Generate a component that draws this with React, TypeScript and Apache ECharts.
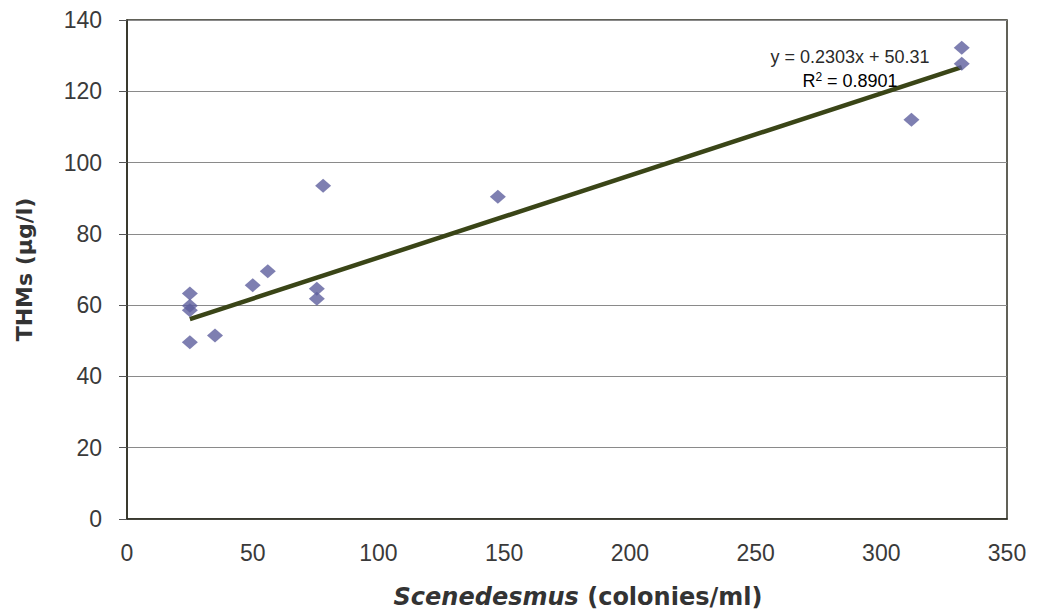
import React, { useEffect, useRef } from "react";
import * as echarts from "echarts";

// Scenedesmus colony counts (colonies/ml) and THM concentrations (µg/l)
const colonies = [25, 25, 25, 25, 35, 50, 56, 75.5, 75.5, 78, 147.5, 312, 332, 332];
const thms = [63.3, 59.8, 58.6, 49.6, 51.5, 65.6, 69.5, 64.6, 61.8, 93.5, 90.4, 112, 132.2, 127.7];

// Linear trend line coefficients
const slope = 0.2303;
const intercept = 50.31;
const rSquared = 0.8901;

const xTicks = [0, 50, 100, 150, 200, 250, 300, 350];
const yTicks = [0, 20, 40, 60, 80, 100, 120, 140];

export default function App() {
  const ref = useRef<HTMLDivElement>(null);

  useEffect(() => {
    if (!ref.current) return;
    const chart = echarts.init(ref.current, undefined, { renderer: "svg" });

    const points = colonies.map((x, i) => [x, thms[i]]);
    const xMin = Math.min(...colonies);
    const xMax = Math.max(...colonies);
    const trend = [
      [xMin, slope * xMin + intercept],
      [xMax, slope * xMax + intercept],
    ];

    const font = "'Liberation Sans', Arial, sans-serif";
    const titleFont = "'DejaVu Sans', 'Liberation Sans', sans-serif";

    chart.setOption({
      animation: false,
      backgroundColor: "#ffffff",
      grid: {
        left: 127,
        right: 31,
        top: 20,
        bottom: 94,
        show: true,
        borderColor: "#2e2e22",
        borderWidth: 1.5,
      },
      xAxis: {
        type: "value",
        min: xTicks[0],
        max: xTicks[xTicks.length - 1],
        interval: 50,
        axisLine: { show: true, onZero: false, lineStyle: { color: "#2e2e22", width: 1.5 } },
        axisTick: { show: false },
        splitLine: { show: false },
        axisLabel: { color: "#3a3a3a", fontSize: 23, fontFamily: font, margin: 22 },
        name: "{i|Scenedesmus}{b| (colonies/ml)}",
        nameLocation: "middle",
        nameGap: 66,
        nameTextStyle: {
          padding: [0, 0, 0, 22],
          rich: {
            i: { fontSize: 24, fontWeight: "bold", fontStyle: "italic", fontFamily: titleFont, color: "#333" },
            b: { fontSize: 24, fontWeight: "bold", fontFamily: titleFont, color: "#333" },
          },
        },
      },
      yAxis: {
        type: "value",
        min: yTicks[0],
        max: yTicks[yTicks.length - 1],
        interval: 20,
        axisLine: { show: true, onZero: false, lineStyle: { color: "#2e2e22", width: 1.5 } },
        axisTick: { show: true, inside: false, length: 8, lineStyle: { color: "#555", width: 1 } },
        splitLine: { show: true, lineStyle: { color: "#8a8a8a", width: 1 } },
        axisLabel: { color: "#3a3a3a", fontSize: 23, fontFamily: font, margin: 25 },
        name: "THMs (µg/l)",
        nameLocation: "middle",
        nameGap: 92,
        nameTextStyle: { fontSize: 22, fontWeight: "bold", fontFamily: titleFont, color: "#333" },
      },
      series: [
        {
          type: "line",
          data: trend,
          symbol: "none",
          lineStyle: { color: "#3a4517", width: 4.5 },
          z: 3,
        },
        {
          type: "scatter",
          data: points,
          symbol: "diamond",
          symbolSize: [16, 14],
          itemStyle: { color: "#5e5f9e" },
          z: 4,
        },
      ],
      graphic: [
        {
          type: "text",
          x: 850,
          y: 57,
          style: {
            text: `y = ${slope}x + ${intercept}`,
            fontSize: 18,
            fontFamily: font,
            fill: "#2a2a2a",
            align: "center",
            verticalAlign: "middle",
          },
          z: 10,
        },
        {
          type: "text",
          x: 850,
          y: 81,
          style: {
            text: `{a|R}{s|2}{a| = ${rSquared}}`,
            align: "center",
            verticalAlign: "middle",
            rich: {
              a: { fontSize: 18, fontFamily: font, color: "#2a2a2a" },
              s: { fontSize: 12, fontFamily: font, color: "#2a2a2a", verticalAlign: "top", padding: [0, 0, 9, 0] },
            },
          },
          z: 10,
        },
      ],
    });

    return () => chart.dispose();
  }, []);

  return <div ref={ref} style={{ width: 1038, height: 614, position: "absolute", left: 0, top: 0 }} />;
}
